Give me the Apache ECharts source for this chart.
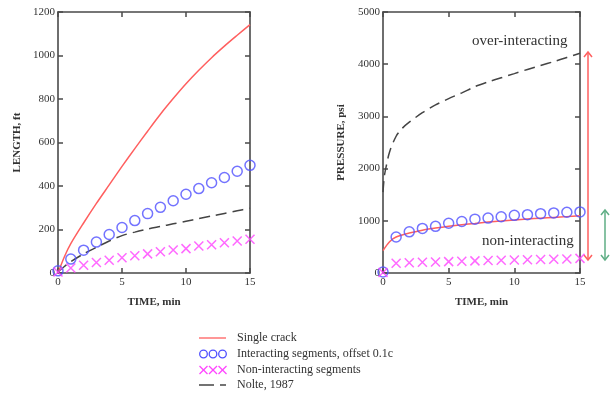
<!DOCTYPE html>
<html><head><meta charset="utf-8">
<script src="https://cdn.jsdelivr.net/npm/echarts@6/dist/echarts.min.js"></script>
<style>html,body{margin:0;padding:0;background:#fff}#c{width:614px;height:399px}</style>
</head><body><div id="c"></div>
<script>
// ---- data ----
var tLine = [0, 0.5, 1, 2, 3, 4, 5, 6, 7, 8, 9, 10, 11, 12, 13, 14, 15];
var tPts = [0, 1, 2, 3, 4, 5, 6, 7, 8, 9, 10, 11, 12, 13, 14, 15];
var tNolteP = [0, 0.1, 0.25, 0.5, 1, 1.5, 2, 3, 4, 5, 6, 7, 8, 9, 10, 11, 12, 13, 14, 15];

// Length (ft)
var lenSingle = [0, 75, 135, 230, 320, 405, 490, 572, 652, 730, 802, 870, 932, 990, 1043, 1093, 1142];
var lenInteract = [10, 64, 105, 142, 177, 209, 241, 273, 302, 332, 362, 388, 415, 439, 468, 495];
var lenNonInteract = [5, 23, 36, 48, 59, 70, 79, 88, 98, 106, 112, 124, 130, 139, 147, 155];
var lenNolte = [5, 30, 52, 88, 118, 147, 172, 188, 202, 214, 226, 238, 250, 262, 274, 286, 298];

// Pressure (psi)
var prSingle = [430, 600, 690, 765, 820, 860, 895, 925, 950, 975, 995, 1015, 1035, 1050, 1065, 1080, 1095];
var prInteract = [20, 690, 789, 854, 894, 953, 986, 1032, 1052, 1078, 1105, 1118, 1137, 1151, 1164, 1170];
var prNonInteract = [10, 185, 195, 205, 212, 218, 225, 232, 238, 243, 250, 255, 260, 265, 270, 280];
var prNolte = [1550, 1850, 2050, 2320, 2620, 2780, 2890, 3070, 3220, 3340, 3450, 3570, 3660, 3740, 3820, 3900, 3975, 4050, 4130, 4210];

var xTicks = [0, 5, 10, 15];
var lenTicks = [0, 200, 400, 600, 800, 1000, 1200];
var prTicks = [0, 1000, 2000, 3000, 4000, 5000];

var names = ['Single crack', 'Interacting segments, offset 0.1c', 'Non-interacting segments', 'Nolte, 1987'];

function pairs(xs, ys) { return xs.map(function (x, i) { return [x, ys[i]]; }); }

var FONT = '"Liberation Serif", "DejaVu Serif", serif';
var frame = '#4a4a4a';
var cRed = '#ff5f5f', cBlue = '#5050ff', cPink = '#ff44ff', cGray = '#444';
var xPath = 'path://M0,0L10,10M10,0L0,10';

function xAx(grid, bottom) {
  return {
    type: 'value', gridIndex: grid, min: xTicks[0], max: xTicks[xTicks.length - 1], interval: 5,
    position: bottom ? 'bottom' : 'top',
    axisLine: { show: true, onZero: false, lineStyle: { color: frame, width: 1.6 } },
    axisTick: { show: true, inside: true, length: 5, lineStyle: { color: frame, width: 1.5 } },
    axisLabel: { show: bottom, color: '#333', fontFamily: FONT, fontSize: 11, margin: 4, formatter: function (v) { return String(v); } },
    splitLine: { show: false },
    name: bottom ? 'TIME, min' : '', nameLocation: 'middle', nameGap: 24,
    nameTextStyle: { color: '#333', fontFamily: FONT, fontSize: 11, fontWeight: 'bold' }
  };
}
function yAx(grid, left, max, interval, nm, gap) {
  return {
    type: 'value', gridIndex: grid, min: 0, max: max, interval: interval,
    position: left ? 'left' : 'right',
    axisLine: { show: true, onZero: false, lineStyle: { color: frame, width: 1.6 } },
    axisTick: { show: true, inside: true, length: 5, lineStyle: { color: frame, width: 1.5 } },
    axisLabel: { show: left, color: '#333', fontFamily: FONT, fontSize: 11, margin: 3, formatter: function (v) { return String(v); } },
    splitLine: { show: false },
    name: left ? nm : '', nameLocation: 'middle', nameGap: gap, nameRotate: 90,
    nameTextStyle: { color: '#333', fontFamily: FONT, fontSize: 11, fontWeight: 'bold' }
  };
}

function lineS(name, xi, yi, data, color, dashed) {
  return {
    name: name, type: 'line', xAxisIndex: xi, yAxisIndex: yi, data: data,
    showSymbol: false, smooth: 0.3, z: 3,
    lineStyle: { color: color, width: 1.5, type: dashed ? [11, 6] : 'solid' },
    itemStyle: { color: color }
  };
}
function circS(name, xi, yi, data) {
  return {
    name: name, type: 'scatter', xAxisIndex: xi, yAxisIndex: yi, data: data, z: 4,
    symbol: 'circle', symbolSize: 10,
    itemStyle: { color: 'rgba(255,255,255,0)', borderColor: cBlue, borderWidth: 1.5 }
  };
}
function crossS(name, xi, yi, data) {
  return {
    name: name, type: 'scatter', xAxisIndex: xi, yAxisIndex: yi, data: data, z: 4,
    symbol: xPath, symbolSize: 9,
    itemStyle: { color: 'rgba(255,255,255,0)', borderColor: cPink, borderWidth: 1.5 }
  };
}

function arrow(x, y1, y2, color) {
  var h = 5, w = 4;
  return [
    { type: 'line', shape: { x1: x, y1: y1, x2: x, y2: y2 }, style: { stroke: color, lineWidth: 1.5 } },
    { type: 'polyline', shape: { points: [[x - w, y1 + h], [x, y1], [x + w, y1 + h]] }, style: { stroke: color, lineWidth: 1.5, fill: null } },
    { type: 'polyline', shape: { points: [[x - w, y2 - h], [x, y2], [x + w, y2 - h]] }, style: { stroke: color, lineWidth: 1.5, fill: null } }
  ];
}

// legend drawn as graphic elements
function legendItems() {
  var x0 = 199, tx = 237, rows = [338, 354, 370, 385];
  var g = [];
  g.push({ type: 'line', shape: { x1: x0, y1: rows[0], x2: x0 + 27, y2: rows[0] }, style: { stroke: cRed, lineWidth: 1.3 } });
  for (var i = 0; i < 3; i++) {
    g.push({ type: 'circle', shape: { cx: x0 + 4.5 + i * 9.5, cy: rows[1], r: 3.8 }, style: { stroke: cBlue, lineWidth: 1.3, fill: null } });
  }
  for (var j = 0; j < 3; j++) {
    var cx = x0 + 4.5 + j * 9.5, cy = rows[2], d = 4;
    g.push({ type: 'polyline', shape: { points: [[cx - d, cy - d], [cx + d, cy + d]] }, style: { stroke: cPink, lineWidth: 1.3, fill: null } });
    g.push({ type: 'polyline', shape: { points: [[cx + d, cy - d], [cx - d, cy + d]] }, style: { stroke: cPink, lineWidth: 1.3, fill: null } });
  }
  g.push({ type: 'line', shape: { x1: x0, y1: rows[3], x2: x0 + 15, y2: rows[3] }, style: { stroke: cGray, lineWidth: 1.5 } });
  g.push({ type: 'line', shape: { x1: x0 + 21, y1: rows[3], x2: x0 + 27, y2: rows[3] }, style: { stroke: cGray, lineWidth: 1.5 } });
  for (var k = 0; k < 4; k++) {
    g.push({ type: 'text', x: tx, y: rows[k], style: { text: names[k], fill: '#333', font: '12px ' + FONT, textVerticalAlign: 'middle', verticalAlign: 'middle' } });
  }
  return g;
}

var chart = echarts.init(document.getElementById('c'), null, { renderer: 'canvas' });
chart.setOption({
  animation: false,
  backgroundColor: '#fff',
  grid: [
    { left: 58, top: 12, width: 192, height: 261 },
    { left: 383, top: 12, width: 197, height: 261 }
  ],
  xAxis: [xAx(0, true), xAx(0, false), xAx(1, true), xAx(1, false)],
  yAxis: [
    yAx(0, true, lenTicks[lenTicks.length - 1], 200, 'LENGTH, ft', 35),
    yAx(0, false, lenTicks[lenTicks.length - 1], 200, '', 0),
    yAx(1, true, prTicks[prTicks.length - 1], 1000, 'PRESSURE, psi', 36),
    yAx(1, false, prTicks[prTicks.length - 1], 1000, '', 0)
  ],
  series: [
    lineS(names[0], 0, 0, pairs(tLine, lenSingle), cRed, false),
    circS(names[1], 0, 0, pairs(tPts, lenInteract)),
    crossS(names[2], 0, 0, pairs(tPts, lenNonInteract)),
    lineS(names[3], 0, 0, pairs(tLine, lenNolte), cGray, true),
    lineS(names[0], 2, 2, pairs(tLine, prSingle), cRed, false),
    circS(names[1], 2, 2, pairs(tPts, prInteract)),
    crossS(names[2], 2, 2, pairs(tPts, prNonInteract)),
    lineS(names[3], 2, 2, pairs(tNolteP, prNolte), cGray, true)
  ],
  graphic: [
    { type: 'text', left: 472, top: 34, style: { text: 'over-interacting', fill: '#333', font: '15px ' + FONT } },
    { type: 'text', left: 482, top: 234, style: { text: 'non-interacting', fill: '#333', font: '15px ' + FONT } }
  ].concat(arrow(588, 52, 260, '#ff5f5f')).concat(arrow(605, 210, 260, '#5fae85')).concat(legendItems())
});
</script>
</body></html>
